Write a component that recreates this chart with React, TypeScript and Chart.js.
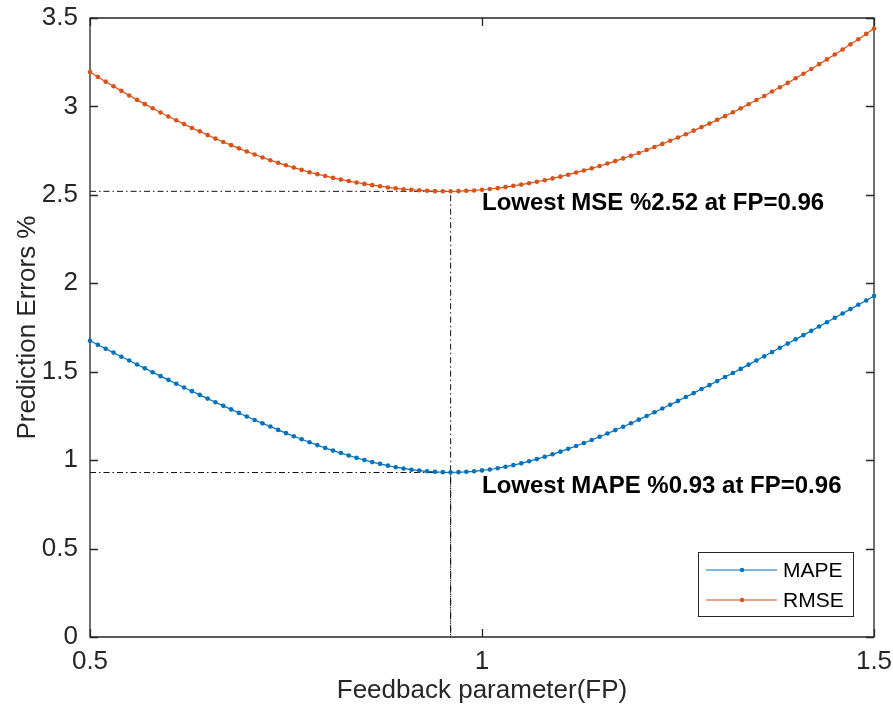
import React, { useEffect, useRef } from "react";
import { Chart, registerables } from "chart.js";

Chart.register(...registerables);

const FP = [
  0.5, 0.51, 0.52, 0.53, 0.54, 0.55, 0.56, 0.57, 0.58, 0.59,
  0.6, 0.61, 0.62, 0.63, 0.64, 0.65, 0.66, 0.67, 0.68, 0.69,
  0.7, 0.71, 0.72, 0.73, 0.74, 0.75, 0.76, 0.77, 0.78, 0.79,
  0.8, 0.81, 0.82, 0.83, 0.84, 0.85, 0.86, 0.87, 0.88, 0.89,
  0.9, 0.91, 0.92, 0.93, 0.94, 0.95, 0.96, 0.97, 0.98, 0.99,
  1.0, 1.01, 1.02, 1.03, 1.04, 1.05, 1.06, 1.07, 1.08, 1.09,
  1.1, 1.11, 1.12, 1.13, 1.14, 1.15, 1.16, 1.17, 1.18, 1.19,
  1.2, 1.21, 1.22, 1.23, 1.24, 1.25, 1.26, 1.27, 1.28, 1.29,
  1.3, 1.31, 1.32, 1.33, 1.34, 1.35, 1.36, 1.37, 1.38, 1.39,
  1.4, 1.41, 1.42, 1.43, 1.44, 1.45, 1.46, 1.47, 1.48, 1.49,
  1.5,
];

const MAPE = [
  1.675, 1.652, 1.63, 1.608, 1.585, 1.563, 1.541, 1.519, 1.497, 1.475,
  1.454, 1.432, 1.411, 1.39, 1.369, 1.348, 1.327, 1.307, 1.287, 1.267,
  1.247, 1.227, 1.208, 1.19, 1.171, 1.153, 1.135, 1.118, 1.101, 1.085,
  1.069, 1.054, 1.04, 1.026, 1.013, 1.001, 0.989, 0.979, 0.969, 0.96,
  0.953, 0.946, 0.941, 0.937, 0.934, 0.932, 0.931, 0.932, 0.934, 0.937,
  0.942, 0.947, 0.954, 0.963, 0.972, 0.982, 0.994, 1.006, 1.019, 1.033,
  1.048, 1.064, 1.08, 1.097, 1.114, 1.132, 1.151, 1.17, 1.189, 1.209,
  1.229, 1.25, 1.271, 1.292, 1.313, 1.335, 1.357, 1.379, 1.402, 1.424,
  1.447, 1.47, 1.493, 1.516, 1.54, 1.563, 1.587, 1.611, 1.635, 1.659,
  1.683, 1.707, 1.731, 1.756, 1.78, 1.805, 1.829, 1.854, 1.879, 1.903,
  1.928,
];

const RMSE = [
  3.195, 3.167, 3.14, 3.114, 3.088, 3.062, 3.037, 3.013, 2.99, 2.966,
  2.943, 2.922, 2.9, 2.878, 2.859, 2.838, 2.818, 2.799, 2.781, 2.763,
  2.745, 2.728, 2.711, 2.696, 2.681, 2.667, 2.654, 2.641, 2.628, 2.617,
  2.607, 2.596, 2.587, 2.578, 2.57, 2.562, 2.555, 2.549, 2.542, 2.537,
  2.532, 2.529, 2.526, 2.523, 2.521, 2.52, 2.52, 2.521, 2.523, 2.525,
  2.529, 2.533, 2.538, 2.544, 2.551, 2.558, 2.566, 2.574, 2.583, 2.593,
  2.603, 2.614, 2.626, 2.638, 2.65, 2.663, 2.677, 2.691, 2.706, 2.721,
  2.737, 2.754, 2.771, 2.788, 2.806, 2.824, 2.843, 2.863, 2.883, 2.903,
  2.924, 2.945, 2.967, 2.989, 3.012, 3.036, 3.059, 3.084, 3.108, 3.133,
  3.159, 3.185, 3.212, 3.239, 3.266, 3.294, 3.322, 3.351, 3.38, 3.41,
  3.44,
];

const SERIES_NAMES = ["MAPE", "RMSE"];
const SERIES_COLORS = ["#0072BD", "#D95319"];

const BEST_FP = 0.96;
const BEST_MAPE = 0.93;
const BEST_RMSE = 2.52;

const X_TICKS = [0.5, 1, 1.5];
const Y_TICKS = [0, 0.5, 1, 1.5, 2, 2.5, 3, 3.5];

const ANNOTATIONS = [
  { text: "Lowest MSE %2.52 at FP=0.96", x: 1.0, y: 2.453 },
  { text: "Lowest MAPE %0.93 at FP=0.96", x: 1.0, y: 0.854 },
];

const X_TITLE = "Feedback parameter(FP)";
const Y_TITLE = "Prediction Errors %";

const FONT = "'Liberation Sans', Arial, Helvetica, sans-serif";
const AXIS_COLOR = "#262626";

const matlabAxesPlugin = {
  id: "matlabAxes",
  beforeDatasetsDraw(chart: any) {
    const { ctx, chartArea } = chart;
    const xs = chart.scales.x;
    const ys = chart.scales.y;
    const { left, right, top, bottom } = chartArea;
    ctx.save();
    ctx.strokeStyle = AXIS_COLOR;
    ctx.lineWidth = 1.3;
    ctx.beginPath();
    ctx.rect(left, top, right - left, bottom - top);
    ctx.stroke();
    const tl = 8;
    ctx.beginPath();
    X_TICKS.forEach((v) => {
      const px = Math.round(xs.getPixelForValue(v)) + 0.5;
      ctx.moveTo(px, bottom);
      ctx.lineTo(px, bottom - tl);
      ctx.moveTo(px, top);
      ctx.lineTo(px, top + tl);
    });
    Y_TICKS.forEach((v) => {
      const py = Math.round(ys.getPixelForValue(v)) + 0.5;
      ctx.moveTo(left, py);
      ctx.lineTo(left + tl, py);
      ctx.moveTo(right, py);
      ctx.lineTo(right - tl, py);
    });
    ctx.stroke();
    ctx.restore();
  },
  afterDraw(chart: any) {
    const { ctx } = chart;
    const xs = chart.scales.x;
    const ys = chart.scales.y;
    ctx.save();
    // annotations
    ctx.fillStyle = "#000";
    ctx.font = `bold 24px ${FONT}`;
    ctx.textAlign = "left";
    ctx.textBaseline = "middle";
    ANNOTATIONS.forEach((a) => {
      ctx.fillText(a.text, xs.getPixelForValue(a.x), ys.getPixelForValue(a.y));
    });
    // legend
    const bx = 698.5, by = 552.5, bw = 155, bh = 64;
    ctx.fillStyle = "#fff";
    ctx.fillRect(bx, by, bw, bh);
    ctx.strokeStyle = AXIS_COLOR;
    ctx.lineWidth = 1;
    ctx.strokeRect(bx, by, bw, bh);
    ctx.font = `21px ${FONT}`;
    SERIES_NAMES.forEach((name, i) => {
      const ry = 570 + i * 30;
      ctx.strokeStyle = SERIES_COLORS[i];
      ctx.lineWidth = 1.2;
      ctx.beginPath();
      ctx.moveTo(706, ry);
      ctx.lineTo(777, ry);
      ctx.stroke();
      ctx.fillStyle = SERIES_COLORS[i];
      ctx.beginPath();
      ctx.arc(742, ry, 2.2, 0, Math.PI * 2);
      ctx.fill();
      ctx.fillStyle = "#000";
      ctx.fillText(name, 783, ry + 1);
    });
    ctx.restore();
  },
};

export default function App() {
  const canvasRef = useRef<HTMLCanvasElement>(null);

  useEffect(() => {
    const canvas = canvasRef.current;
    if (!canvas) return;
    const mk = (ys: number[]) => FP.map((x, i) => ({ x, y: ys[i] }));
    const refLine = (v: number) => [
      { x: FP[0], y: v },
      { x: BEST_FP, y: v },
      { x: BEST_FP, y: 0 },
    ];
    const chart = new Chart(canvas, {
      type: "line",
      data: {
        datasets: [
          {
            label: SERIES_NAMES[0],
            data: mk(MAPE),
            borderColor: SERIES_COLORS[0],
            backgroundColor: SERIES_COLORS[0],
            pointBackgroundColor: SERIES_COLORS[0],
            pointBorderWidth: 0,
            pointRadius: 2.3,
            borderWidth: 1.2,
            tension: 0,
            clip: 5,
          },
          {
            label: SERIES_NAMES[1],
            data: mk(RMSE),
            borderColor: SERIES_COLORS[1],
            backgroundColor: SERIES_COLORS[1],
            pointBackgroundColor: SERIES_COLORS[1],
            pointBorderWidth: 0,
            pointRadius: 2.3,
            borderWidth: 1.2,
            tension: 0,
            clip: 5,
          },
          {
            label: "refRMSE",
            data: refLine(BEST_RMSE),
            borderColor: "#111",
            borderWidth: 1,
            borderDash: [6, 3, 1.5, 3],
            pointRadius: 0,
            tension: 0,
          },
          {
            label: "refMAPE",
            data: refLine(BEST_MAPE),
            borderColor: "#111",
            borderWidth: 1,
            borderDash: [6, 3, 1.5, 3],
            pointRadius: 0,
            tension: 0,
          },
        ] as any,
      },
      options: {
        animation: false,
        responsive: false,
        maintainAspectRatio: false,
        layout: { padding: { left: 0, top: 18, right: 19, bottom: 0 } },
        plugins: {
          legend: { display: false },
          tooltip: { enabled: false },
        },
        scales: {
          x: {
            type: "linear",
            min: 0.5,
            max: 1.5,
            grid: { display: false, drawTicks: false },
            border: { display: false },
            afterBuildTicks: (s: any) => {
              s.ticks = X_TICKS.map((v) => ({ value: v }));
            },
            afterFit: (s: any) => {
              s.height = 73;
              s.paddingLeft = 0;
              s.paddingRight = 0;
            },
            ticks: {
              color: AXIS_COLOR,
              font: { family: FONT, size: 26 },
              padding: 9,
              maxRotation: 0,
              autoSkip: false,
              callback: (v: any) => String(v),
            },
            title: {
              display: true,
              text: X_TITLE,
              color: AXIS_COLOR,
              font: { family: FONT, size: 26 },
              padding: { top: 0, bottom: 4 },
            },
          },
          y: {
            type: "linear",
            min: 0,
            max: 3.5,
            grid: { display: false, drawTicks: false },
            border: { display: false },
            afterBuildTicks: (s: any) => {
              s.ticks = Y_TICKS.map((v) => ({ value: v }));
            },
            afterFit: (s: any) => {
              s.width = 90;
              s.paddingTop = 0;
              s.paddingBottom = 0;
            },
            ticks: {
              color: AXIS_COLOR,
              font: { family: FONT, size: 26 },
              padding: 12,
              autoSkip: false,
              callback: (v: any) => String(v),
            },
            title: {
              display: true,
              text: Y_TITLE,
              color: AXIS_COLOR,
              font: { family: FONT, size: 26 },
              padding: { top: 12, bottom: 0 },
            },
          },
        },
      },
      plugins: [matlabAxesPlugin],
    });
    return () => chart.destroy();
  }, []);

  return (
    <div style={{ position: "absolute", left: 0, top: 0, width: 893, height: 710, background: "#fff" }}>
      <canvas ref={canvasRef} width={893} height={710} />
    </div>
  );
}
